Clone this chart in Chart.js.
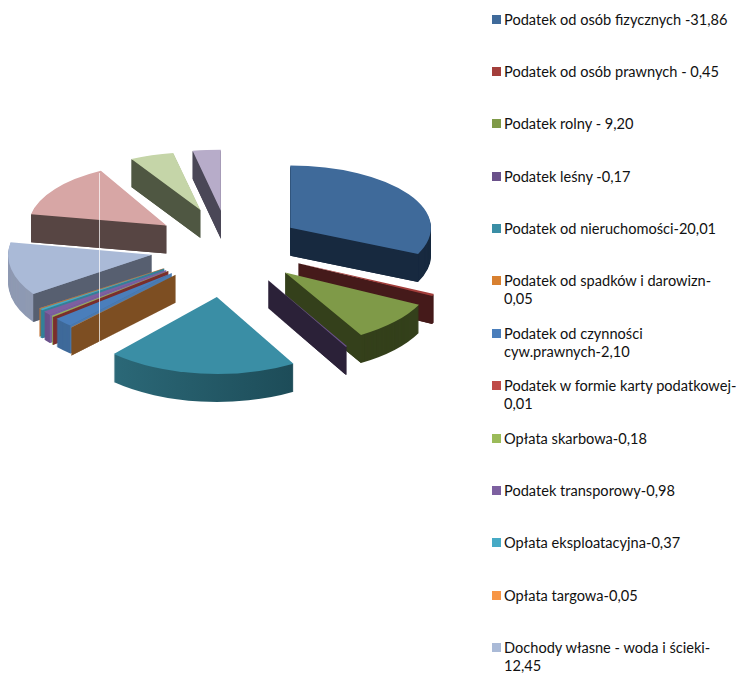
<!DOCTYPE html>
<html lang="pl">
<head>
<meta charset="utf-8">
<title>Dochody</title>
<script src="https://cdn.jsdelivr.net/npm/chart.js@4"></script>
<style>
  html, body { margin: 0; padding: 0; background: #fff; }
  #wrap { position: relative; width: 744px; height: 675px; overflow: hidden; }
  #pie { position: absolute; left: 0; top: 0; }
  #legend { position: absolute; left: 491px; top: 10.5px; width: 253px; font: 14.6px/18px Lato, sans-serif; color: #111; }
  .item { position: relative; height: 52.4px; padding-left: 13px; box-sizing: border-box; white-space: pre-line; }
  .item i { position: absolute; left: 1px; top: 4px; width: 9px; height: 9px; }
</style>
</head>
<body>
<div id="wrap">
  <canvas id="pie" width="456" height="494"></canvas>
  <div id="legend"></div>
</div>
<script>
const categories = [
  "Podatek od osób fizycznych -31,86",
  "Podatek od osób prawnych - 0,45",
  "Podatek rolny - 9,20",
  "Podatek leśny -0,17",
  "Podatek od nieruchomości-20,01",
  "Podatek od spadków i darowizn-\n0,05",
  "Podatek od czynności\ncyw.prawnych-2,10",
  "Podatek w formie karty podatkowej-\n0,01",
  "Opłata skarbowa-0,18",
  "Podatek transporowy-0,98",
  "Opłata eksploatacyjna-0,37",
  "Opłata targowa-0,05",
  "Dochody własne - woda i ścieki-\n12,45",
];
// the last three slices have no legend entry in the picture, values estimated
const values = [31.86, 0.45, 9.2, 0.17, 20.01, 0.05, 2.1, 0.01, 0.18, 0.98, 0.37, 0.05, 12.45, 14.2, 4.9, 3.0];

const topColors = ["#3f6a9a", "#a33e3b", "#7f9a48", "#6a518a", "#3a8ea5", "#d88030", "#4a7ebb", "#bf4b48",
  "#9bbb59", "#7d60a0", "#46aac5", "#f79646", "#aabad7", "#d7a6a5", "#c5d5a8", "#b7acc9"];
const wallColors = ["#17293f", "#451a1a", "#34401b", "#2b2138", "#17404b", "#7d4e22", "#4a7ab0", "#7a2e2c",
  "#9bbb59", "#7d60a0", "#338098", "#c07030", "#575f70", "#574543", "#4f5742", "#4a4757"];
const sideColors = ["#17293f", "#451a1a", "#34401b", "#2b2138", ["#2f7080", "#17404b"], "#7d4e22", "#3f6a9a", "#7a2e2c",
  "#7f9a48", "#6a518a", "#338098", "#c07030", "#8f9ab3", "#574543", "#4f5742", "#4a4757"];
const explode = [74, 78, 78, 80, 105, 78, 78, 78, 78, 78, 78, 78, 78, 76, 82, 76];
// fake perspective: near slices come out wider and taller than far ones
const stretchX = [0.97, 1.03, 1.03, 1.07, 1.06, 1.07, 1.04, 1.04, 1.04, 1.04, 1.04, 1.04, 0.99, 0.95, 1, 1.04];
const stretchY = [0.43, 0.51, 0.5, 0.53, 0.53, 0.49, 0.49, 0.49, 0.49, 0.49, 0.49, 0.49, 0.48, 0.43, 0.4, 0.42];
const drawOrder = [15, 14, 13, 0, 1, 12, 11, 10, 9, 8, 7, 6, 5, 2, 3, 4];

const squash = 0.48;
const depth = 28;

const legendBox = document.getElementById("legend");
categories.forEach((name, i) => {
  const row = document.createElement("div");
  row.className = "item";
  const mark = document.createElement("i");
  mark.style.background = topColors[i];
  row.appendChild(mark);
  row.appendChild(document.createTextNode(name));
  legendBox.appendChild(row);
});

function sideFill(ctx, color, left, right) {
  if (!Array.isArray(color)) return color;
  const g = ctx.createLinearGradient(left, 0, right, 0);
  g.addColorStop(0, color[0]);
  g.addColorStop(1, color[1]);
  return g;
}

// pie is drawn flat by the library, this tips it over and gives it walls
const tiltedPie = {
  id: "tiltedPie",
  beforeDatasetsDraw(chart) {
    const ctx = chart.ctx;
    const arcs = chart.getDatasetMeta(0).data;
    drawOrder.forEach((i) => {
      const arc = arcs[i];
      const sx = stretchX[i];
      const sy = stretchY[i];
      const r = arc.outerRadius;
      const e = explode[i];
      const mid = (arc.startAngle + arc.endAngle) / 2;
      const ax = arc.x + Math.cos(mid) * e;
      const ay = arc.y + Math.sin(mid) * e * squash;

      // outer side, stacked copies of the slice shape going down
      ctx.save();
      ctx.fillStyle = sideFill(ctx, sideColors[i], ax - r * sx, ax + r * sx);
      for (let d = depth; d > 0; d--) {
        ctx.save();
        ctx.translate(ax, ay + d);
        ctx.scale(sx, sy);
        ctx.beginPath();
        ctx.moveTo(0, 0);
        ctx.arc(0, 0, r, arc.startAngle, arc.endAngle);
        ctx.closePath();
        ctx.restore();
        ctx.fill();
      }
      ctx.restore();

      // radial walls which face the viewer
      const edges = [];
      if (Math.cos(arc.startAngle) < 0) edges.push(arc.startAngle);
      if (Math.cos(arc.endAngle) > 0) edges.push(arc.endAngle);
      edges.forEach((a) => {
        const rimX = ax + Math.cos(a) * r * sx;
        const rimY = ay + Math.sin(a) * r * sy;
        ctx.fillStyle = wallColors[i];
        ctx.beginPath();
        ctx.moveTo(ax, ay);
        ctx.lineTo(rimX, rimY);
        ctx.lineTo(rimX, rimY + depth);
        ctx.lineTo(ax, ay + depth);
        ctx.closePath();
        ctx.fill();
      });

      ctx.save();
      ctx.translate(ax, ay);
      ctx.scale(sx, sy);
      ctx.translate(-arc.x, -arc.y);
      arc.draw(ctx);
      ctx.restore();
    });

    // thin light seam visible across the left side of the picture
    ctx.fillStyle = "rgba(255,255,255,0.7)";
    ctx.fillRect(99, 173, 1, 190);
    return false;
  },
};

new Chart(document.getElementById("pie"), {
  type: "pie",
  data: {
    labels: categories,
    datasets: [
      {
        data: values,
        backgroundColor: topColors,
        borderWidth: 0,
      },
    ],
  },
  options: {
    responsive: false,
    animation: false,
    events: [],
    radius: 145,
    plugins: {
      legend: { display: false },
      tooltip: { enabled: false },
    },
  },
  plugins: [tiltedPie],
});
</script>
</body>
</html>
